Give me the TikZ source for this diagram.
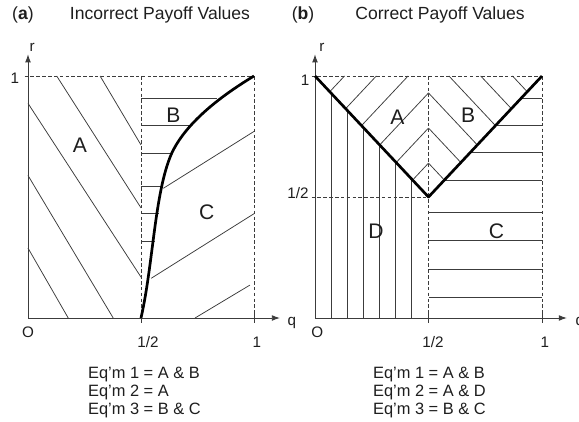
\documentclass[tikz,border=0pt]{standalone}
\usepackage{fontspec}
\setmainfont{Liberation Sans}
\usepackage{tikz}
\usetikzlibrary{arrows.meta,positioning,calc}
\definecolor{inkgray}{RGB}{60,60,60}
\definecolor{textgray}{RGB}{30,30,30}

\begin{document}
\begin{tikzpicture}[
    hatch/.style={draw=inkgray, line width=0.65pt},
    guide/.style={draw=inkgray, line width=0.6pt, dash pattern=on 3pt off 2pt},
    border/.style={draw=black, line width=2.3pt, line join=round},
    axis/.style={draw=inkgray, line width=0.8pt, -{Latex[length=7pt,width=5pt]}},
    tickmark/.style={draw=inkgray, line width=0.8pt},
    title/.style={font=\fontsize{15}{18}\selectfont, text=textgray},
    region/.style={font=\fontsize{18}{21}\selectfont, text=textgray},
    ticklbl/.style={font=\fontsize{13}{15}\selectfont, text=textgray},
    eqm/.style={font=\fontsize{14}{15.3}\selectfont, text=textgray, align=left, anchor=north west, inner sep=0pt}
]
    \useasboundingbox (0,0) rectangle (17.37,12.63);

    % ---- (a) Incorrect Payoff Values ----
    \begin{scope}[shift={(0.84,3.09)}, x=6.78cm, y=7.26cm]
        \node[title] (a_tag) at (-0.022,1.252) {(\textbf{a})};
        \node[title] (a_title) at (0.584,1.252) {Incorrect Payoff Values};

        % hatching of A
        \draw[hatch] (0,0.289) -- (0.178,0);
        \draw[hatch] (0,0.589) -- (0.377,0);
        \draw[hatch] (0,0.887) -- (0.5,0.169);
        \draw[hatch] (0.127,1) -- (0.5,0.455);
        \draw[hatch] (0.319,1) -- (0.5,0.715);
        % hatching of B
        \foreach \r/\e in {0.908/0.835, 0.795/0.725, 0.681/0.636, 0.545/0.598, 0.433/0.578, 0.316/0.562}
            \draw[hatch] (0.5,\r) -- (\e,\r);
        % hatching of C
        \draw[hatch] (0.599,0.536) -- (1,0.771);
        \draw[hatch] (0.545,0.164) -- (1,0.431);
        \draw[hatch] (0.739,0) -- (0.982,0.136);

        % guides
        \draw[guide] (-0.015,1) -- (1,1);
        \draw[guide] (0.5,1) -- (0.5,0);
        \draw[guide] (1,1) -- (1,0);

        % axes
        \coordinate (a_o) at (0,0);
        \draw[axis] (a_o) -- (0,1.09);
        \draw[axis] (a_o) -- (1.115,0);
        \draw[tickmark] (0.5,-0.02) -- (0.5,0.02);
        \draw[tickmark] (1,-0.02) -- (1,0.02);

        % boundary
        \coordinate (a_start) at (0.5,0);
        \coordinate (a_bend) at (0.636,0.681);
        \coordinate (a_end) at (1,1);
        \draw[border] (a_start) .. controls (0.555,0.227) and (0.56,0.521) .. (a_bend)
            .. controls (0.696,0.801) and (0.84,0.91) .. (a_end);

        \node[region] (a_A) at (0.23,0.715) {A};
        \node[region] (a_B) at (0.643,0.839) {B};
        \node[region] (a_C) at (0.791,0.439) {C};

        \node[ticklbl] (a_r) at (0.018,1.12) {r};
        \node[ticklbl] (a_q) at (1.167,-0.022) {q};
        \node[ticklbl] (a_one_r) at (-0.058,0.99) {1};
        \node[ticklbl] (a_O) at (0,-0.058) {O};
        \node[ticklbl] (a_half_q) at (0.531,-0.1) {1/2};
        \node[ticklbl] (a_one_q) at (1.013,-0.1) {1};

        \node[eqm] (a_eqm) at (0.265,-0.202) {Eq'm 1 = A \& B\\Eq'm 2 = A\\Eq'm 3 = B \& C};
    \end{scope}

    % ---- (b) Correct Payoff Values ----
    \begin{scope}[shift={(9.45,3.09)}, x=6.81cm, y=7.26cm]
        \node[title] (b_tag) at (-0.053,1.252) {(\textbf{b})};
        \node[title] (b_title) at (0.551,1.252) {Correct Payoff Values};

        % hatching of A and B (chevrons)
        \foreach \b in {0.14,0.285,0.43} {
            \draw[hatch] ({(1-\b)/2},{(1+\b)/2}) -- (0.5,{0.5+\b});
            \draw[hatch] ({(1+\b)/2},{(1+\b)/2}) -- (0.5,{0.5+\b});
        }
        \foreach \b in {0.59,0.73,0.87} {
            \draw[hatch] ({(1-\b)/2},{(1+\b)/2}) -- ({1-\b},1);
            \draw[hatch] ({(1+\b)/2},{(1+\b)/2}) -- (\b,1);
        }
        % hatching of D
        \foreach \k in {1,...,6}
            \draw[hatch] ({0.071*\k},0) -- ({0.071*\k},{1-0.071*\k});
        % hatching of C
        \foreach \r in {0.570,0.685,0.795,0.908}
            \draw[hatch] (\r,\r) -- (1,\r);
        \foreach \r in {0.087,0.202,0.322,0.438}
            \draw[hatch] (0.5,\r) -- (1,\r);

        % guides
        \draw[guide] (-0.015,1) -- (1,1);
        \draw[guide] (-0.015,0.5) -- (0.5,0.5);
        \draw[guide] (0.5,1) -- (0.5,0);
        \draw[guide] (1,1) -- (1,0);

        % axes
        \coordinate (b_o) at (0,0);
        \draw[axis] (b_o) -- (0,1.09);
        \draw[axis] (b_o) -- (1.11,0);
        \draw[tickmark] (0.5,-0.02) -- (0.5,0.02);
        \draw[tickmark] (1,-0.02) -- (1,0.02);

        % boundary
        \coordinate (b_tl) at (0,1);
        \coordinate (b_v) at (0.5,0.5);
        \coordinate (b_tr) at (1,1);
        \draw[border] (b_tl) -- (b_v) -- (b_tr);

        \node[region] (b_A) at (0.363,0.828) {A};
        \node[region] (b_B) at (0.675,0.839) {B};
        \node[region] (b_D) at (0.269,0.357) {D};
        \node[region] (b_C) at (0.80,0.357) {C};

        \node[ticklbl] (b_r) at (0.03,1.12) {r};
        \node[ticklbl] (b_q) at (1.167,-0.022) {q};
        \node[ticklbl] (b_one_r) at (-0.044,0.983) {1};
        \node[ticklbl] (b_half_r) at (-0.075,0.517) {1/2};
        \node[ticklbl] (b_O) at (0.01,-0.058) {O};
        \node[ticklbl] (b_half_q) at (0.52,-0.1) {1/2};
        \node[ticklbl] (b_one_q) at (1.013,-0.1) {1};

        \node[eqm] (b_eqm) at (0.255,-0.202) {Eq'm 1 = A \& B\\Eq'm 2 = A \& D\\Eq'm 3 = B \& C};
    \end{scope}
\end{tikzpicture}
\end{document}
